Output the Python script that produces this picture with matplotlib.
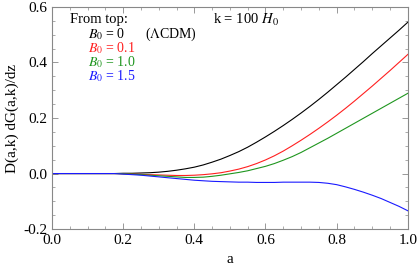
import numpy as np
import matplotlib
matplotlib.use("Agg")
import matplotlib.pyplot as plt
from matplotlib.ticker import MultipleLocator, FormatStrFormatter

plt.rcParams['font.family'] = ['Liberation Serif', 'DejaVu Serif']
plt.rcParams['mathtext.fontset'] = 'stix'

# values, a = 0 .. 1 in steps of 0.025
a = [0.0, 0.025, 0.05, 0.075, 0.1, 0.125, 0.15, 0.175,
     0.2, 0.225, 0.25, 0.275, 0.3, 0.325, 0.35, 0.375,
     0.4, 0.425, 0.45, 0.475, 0.5, 0.525, 0.55, 0.575,
     0.6, 0.625, 0.65, 0.675, 0.7, 0.725, 0.75, 0.775,
     0.8, 0.825, 0.85, 0.875, 0.9, 0.925, 0.95, 0.975, 1.0]
b0_0 = [0, 0, 0, 0, 0, 0, 0, 0,
        0.001, 0.001, 0.002, 0.003, 0.005, 0.008, 0.012, 0.017,
        0.023, 0.031, 0.041, 0.052, 0.065, 0.079, 0.095, 0.113,
        0.132, 0.152, 0.173, 0.195, 0.218, 0.242, 0.267, 0.293,
        0.32, 0.347, 0.375, 0.403, 0.432, 0.46, 0.488, 0.516, 0.545]
b0_01 = [0, 0, 0, 0, 0, 0, 0, 0,
         -0.001, -0.002, -0.003, -0.004, -0.005, -0.006, -0.007, -0.007,
         -0.006, -0.004, -0.001, 0.003, 0.009, 0.016, 0.025, 0.036,
         0.049, 0.064, 0.081, 0.1, 0.12, 0.141, 0.163, 0.186,
         0.21, 0.235, 0.261, 0.288, 0.315, 0.343, 0.371, 0.4, 0.429]
b0_10 = [0, 0, 0, 0, 0, 0, 0, 0,
         -0.001, -0.002, -0.004, -0.006, -0.008, -0.01, -0.012, -0.014,
         -0.014, -0.013, -0.01, -0.006, -0.001, 0.004, 0.01, 0.018,
         0.026, 0.036, 0.048, 0.061, 0.076, 0.093, 0.11, 0.127,
         0.145, 0.163, 0.181, 0.199, 0.217, 0.235, 0.253, 0.271, 0.289]
b0_15 = [0, 0, 0, 0, 0, 0, 0, 0,
         -0.002, -0.004, -0.006, -0.009, -0.012, -0.015, -0.018, -0.021,
         -0.024, -0.026, -0.028, -0.029, -0.03, -0.031, -0.031, -0.032,
         -0.032, -0.032, -0.031, -0.031, -0.031, -0.031, -0.032, -0.035,
         -0.04, -0.048, -0.057, -0.067, -0.078, -0.09, -0.104, -0.118, -0.134]

red = '#ff2020'
green = '#1f961f'
blue = '#1a1aff'

fig = plt.figure(figsize=(4.17, 2.67), dpi=100)
ax = fig.add_axes([0.1247, 0.142, 0.8533, 0.832])

ax.plot(a, b0_0, color='black', lw=0.8)
ax.plot(a, b0_01, color=red, lw=0.8)
ax.plot(a, b0_10, color=green, lw=0.8)
ax.plot(a, b0_15, color=blue, lw=0.8)

ax.set_xlim(0, 1)
ax.set_ylim(-0.2, 0.6)
ax.xaxis.set_major_locator(MultipleLocator(0.2))
ax.xaxis.set_minor_locator(MultipleLocator(0.05))
ax.yaxis.set_major_locator(MultipleLocator(0.2))
ax.yaxis.set_minor_locator(MultipleLocator(0.05))
ax.xaxis.set_major_formatter(FormatStrFormatter('%.1f'))
ax.yaxis.set_major_formatter(FormatStrFormatter('%.1f'))
ax.tick_params(which='both', direction='in', top=True, right=True,
               color='#888888', labelsize=11)
ax.tick_params(which='major', length=4, width=0.6)
ax.tick_params(which='minor', length=2.5, width=0.5)
for s in ax.spines.values():
    s.set_color('#888888')
    s.set_linewidth(0.8)

ax.set_xlabel('a', fontsize=11, labelpad=4)
ax.set_ylabel('D(a,k) dG(a,k)/dz', fontsize=11, labelpad=3)

fs = 10
ax.text(0.05, 0.553, 'From top:', fontsize=10.5, va='center')
ax.text(0.101, 0.503, r'$B_0$ = 0', fontsize=fs, va='center', color='black')
ax.text(0.26, 0.503, r'($\Lambda$CDM)', fontsize=fs, va='center', color='black')
ax.text(0.101, 0.452, r'$B_0$ = 0.1', fontsize=fs, va='center', color=red)
ax.text(0.101, 0.401, r'$B_0$ = 1.0', fontsize=fs, va='center', color=green)
ax.text(0.101, 0.350, r'$B_0$ = 1.5', fontsize=fs, va='center', color=blue)
ax.text(0.452, 0.553, r'k = 100 $H_0$', fontsize=10.5, va='center')

fig.savefig('out.png', dpi=100)
